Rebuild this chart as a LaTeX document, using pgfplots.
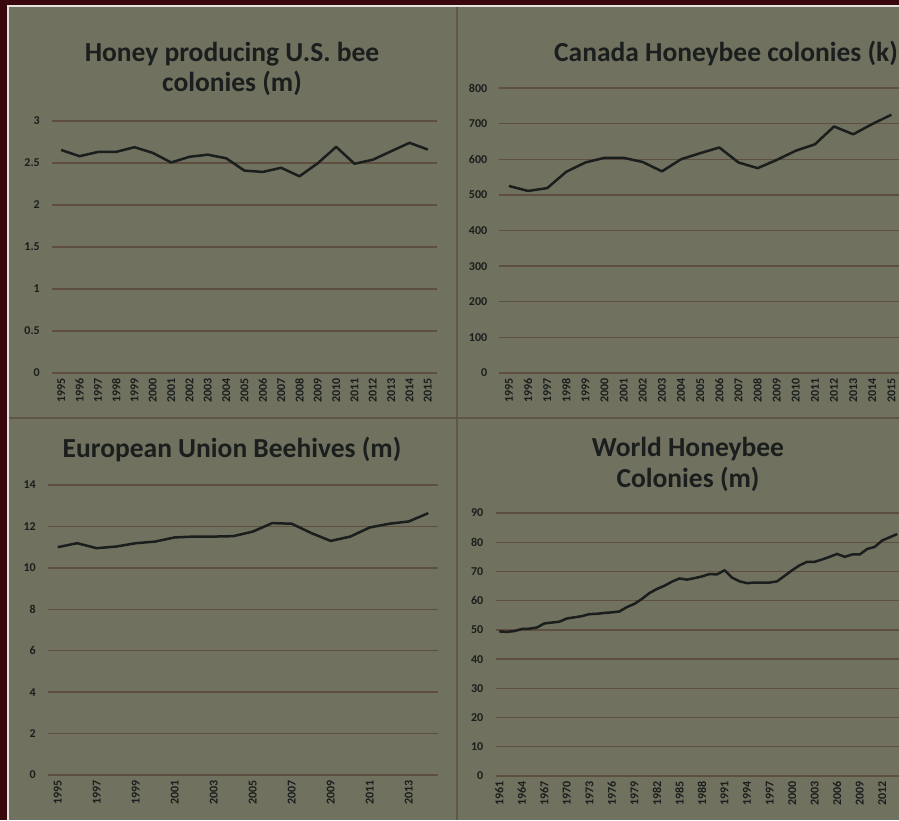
\documentclass[border=0pt]{standalone}
\usepackage{fontspec}
\setmainfont{Carlito}
\usepackage{pgfplots}
\pgfplotsset{compat=1.18}
\definecolor{bg}{RGB}{113,113,96}
\definecolor{gridc}{RGB}{94,78,64}
\definecolor{framec}{RGB}{58,8,12}
\definecolor{ink}{RGB}{26,30,28}
\definecolor{divider}{RGB}{96,86,72}
\pgfplotsset{
  panel/.style={
    scale only axis, anchor=south west,
    axis line style={draw=none}, tick style={draw=none},
    ymajorgrids, major grid style={gridc, line width=1.3pt},
    /pgf/number format/assume math mode=true,
    /pgf/number format/1000 sep={},
    ticklabel style={font=\bfseries\fontsize{12}{12}\selectfont, text=ink, inner sep=0pt},
    xticklabel style={rotate=90, anchor=east},
    xticklabel shift=5pt, yticklabel shift=12pt,
    clip=false,
  },
  beeline/.style={ink, line width=2.5pt, line join=round, mark=none},
}
\pgfplotstableread{
year us canada
1995 2.655 525
1996 2.581 511
1997 2.631 519
1998 2.633 565
1999 2.688 591
2000 2.620 604
2001 2.506 604
2002 2.574 592
2003 2.599 566
2004 2.556 600
2005 2.409 617
2006 2.394 633
2007 2.443 591
2008 2.342 575
2009 2.498 598
2010 2.692 624
2011 2.491 642
2012 2.539 692
2013 2.640 670
2014 2.740 699
2015 2.660 725
}\toptable
\pgfplotstableread{
year eu
1995 11.00
1996 11.19
1997 10.95
1998 11.03
1999 11.19
2000 11.27
2001 11.47
2002 11.51
2003 11.51
2004 11.53
2005 11.75
2006 12.16
2007 12.13
2008 11.68
2009 11.30
2010 11.51
2011 11.95
2012 12.13
2013 12.24
2014 12.64
}\eutable
\pgfplotstableread{
year world
1961 49.5
1962 49.3
1963 49.6
1964 50.3
1965 50.4
1966 50.8
1967 52.2
1968 52.5
1969 52.8
1970 53.9
1971 54.3
1972 54.7
1973 55.4
1974 55.5
1975 55.8
1976 56.0
1977 56.3
1978 57.8
1979 58.9
1980 60.6
1981 62.6
1982 64.0
1983 65.1
1984 66.5
1985 67.6
1986 67.2
1987 67.7
1988 68.3
1989 69.1
1990 69.0
1991 70.4
1992 67.9
1993 66.6
1994 66.0
1995 66.2
1996 66.2
1997 66.2
1998 66.6
1999 68.5
2000 70.4
2001 72.1
2002 73.3
2003 73.3
2004 74.1
2005 75.0
2006 76.0
2007 75.0
2008 75.8
2009 75.8
2010 77.7
2011 78.4
2012 80.6
2013 81.7
2014 82.8
}\worldtable
\begin{document}
\begin{tikzpicture}
\useasboundingbox (0pt,0pt) rectangle (899pt,820pt);
\clip (0pt,0pt) rectangle (899pt,820pt);
\fill[framec] (0pt,0pt) rectangle (899pt,820pt);
\fill[white!80!bg] (6.5pt,0pt) rectangle (899pt,815pt);
\fill[bg] (9pt,0pt) rectangle (899pt,812.5pt);
\draw[divider, line width=2pt] (457pt,0pt) -- (457pt,812.5pt);
\draw[divider, line width=2pt] (9pt,402pt) -- (899pt,402pt);

% Panel 1
\begin{axis}[panel, at={(52pt,447pt)}, width=385pt, height=252pt,
  xmin=1994.5, xmax=2015.5, ymin=0, ymax=3,
  xtick={1995,...,2015}, ytick={0,0.5,1,1.5,2,2.5,3}]
\addplot[beeline] table[x=year,y=us] {\toptable};
\end{axis}
% Panel 2
\begin{axis}[panel, at={(499.4pt,447pt)}, width=401.6pt, height=285pt,
  xmin=1994.5, xmax=2015.5, ymin=0, ymax=800,
  xtick={1995,...,2015}, ytick={0,100,...,800}]
\addplot[beeline] table[x=year,y=canada] {\toptable};
\end{axis}
% Panel 3
\begin{axis}[panel, at={(48pt,45pt)}, width=390pt, height=290pt,
  xmin=1994.5, xmax=2014.5, ymin=0, ymax=14,
  xtick={1995,1997,...,2013}, ytick={0,2,...,14}]
\addplot[beeline] table[x=year,y=eu] {\eutable};
\end{axis}
% Panel 4
\begin{axis}[panel, at={(495.5pt,44pt)}, width=405.5pt, height=263pt,
  xmin=1960.5, xmax=2014.5, ymin=0, ymax=90,
  xtick={1961,1964,...,2012}, ytick={0,10,...,90}]
\addplot[beeline] table[x=year,y=world] {\worldtable};
\end{axis}

\tikzset{ttl/.style={font=\bfseries\fontsize{27.5}{27.5}\selectfont, text=ink, anchor=base, inner sep=0pt}}
\node[ttl] at (232pt,758pt) {Honey producing U.S. bee};
\node[ttl] at (232pt,728pt) {colonies (m)};
\node[ttl] at (726pt,758pt) {Canada Honeybee colonies (k)};
\node[ttl] at (232pt,362pt) {European Union Beehives (m)};
\node[ttl] at (688pt,363pt) {World Honeybee};
\node[ttl] at (688pt,333pt) {Colonies (m)};
\end{tikzpicture}
\end{document}
